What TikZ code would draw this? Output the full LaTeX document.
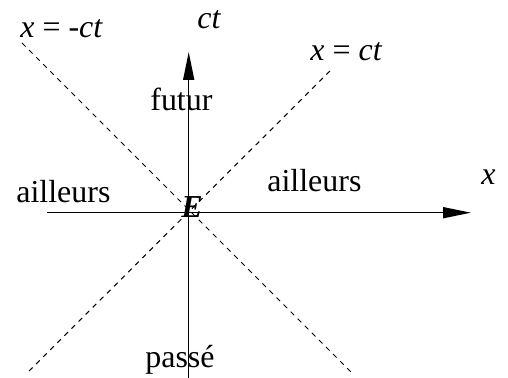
\documentclass[tikz,border=0pt]{standalone}
\usepackage{fontspec}
\setmainfont{Liberation Serif}[
  ItalicFont={Liberation Serif Italic},
  BoldFont={Liberation Serif Bold},
  BoldItalicFont={Liberation Serif Bold Italic}]
\usetikzlibrary{arrows.meta, positioning}

\begin{document}
\begin{tikzpicture}[
    x=0.02cm, y=-0.02cm,
    font=\fontsize{18.2}{21}\selectfont,
    lbl/.style={inner sep=0pt, anchor=base west},
    axe/.style={-{Triangle[length=0.56cm, width=0.22cm]}, line width=0.85pt},
    cone/.style={dash pattern=on 0.1cm off 0.1cm, line width=0.6pt},
]
\useasboundingbox (0,0) rectangle (508,378);
\coordinate (E) at (188.7,212.7);
\coordinate (xg) at (47,212.7);
\coordinate (xd) at (471,212.7);
\coordinate (tb) at (188.7,378);
\coordinate (th) at (188.7,52);
\coordinate (mh) at (22,43);
\coordinate (mb) at (353,374);
\coordinate (ph) at (330,71);
\coordinate (pb) at (28,372);
% lignes de lumiere
\draw[cone] (mh) -- (mb);
\draw[cone] (ph) -- (pb);
% axes
\draw[axe] (xg) -- (xd);
\draw[axe] (tb) -- (th);
% textes
\node[lbl] (lmct) at (20,38) {\textit{x} = \textit{-ct}};
\node[lbl] (lct) at (197,29) {\textit{ct}};
\node[lbl] (lpct) at (310,61) {\textit{x} = \textit{ct}};
\node[lbl] (futur) at (150,111) {futur};
\node[lbl] (aillg) at (16,203) {ailleurs};
\node[lbl] (ailld) at (267,192) {ailleurs};
\node[lbl] (lx) at (481,185) {\textit{x}};
\node[lbl] (lE) at (181,218) {\textbf{\textit{E}}};
\node[lbl] (passe) at (145,368) {passé};
\end{tikzpicture}
\end{document}
